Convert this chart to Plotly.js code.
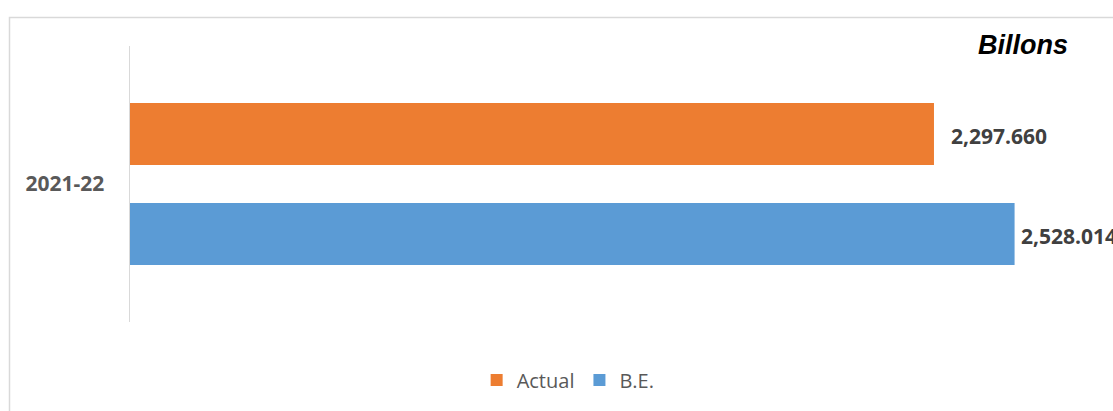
<!DOCTYPE html>
<html>
<head>
<meta charset="utf-8">
<script src="https://cdn.plot.ly/plotly-3.0.1.min.js"></script>
<style>
html,body{margin:0;padding:0;background:#fff;}
#chart{width:1113px;height:411px;}
</style>
</head>
<body>
<div id="chart"></div>
<script>
const categories = ["2021-22"];
const seriesNames = ["Actual", "B.E."];
const actualValues = [2297.660];
const beValues = [2528.014];
const unitLabel = "Billons";

const colors = ["#ED7D31", "#5B9BD5"];
const fmt = v => v.toLocaleString("en-US", {minimumFractionDigits: 3, maximumFractionDigits: 3});

const traces = [
  {type: "bar", orientation: "h", name: seriesNames[0], x: actualValues, y: categories,
   marker: {color: colors[0]}, hoverinfo: "x+name"},
  {type: "bar", orientation: "h", name: seriesNames[1], x: beValues, y: categories,
   marker: {color: colors[1]}, hoverinfo: "x+name"}
];

const labelFont = {family: "Open Sans, sans-serif", size: 21, color: "#404040", weight: 700};
const annotations = [
  {x: actualValues[0], y: categories[0], xref: "x", yref: "y", text: "<b>" + fmt(actualValues[0]) + "</b>",
   showarrow: false, xanchor: "left", yanchor: "middle", xshift: 15, yshift: 48, font: labelFont},
  {x: beValues[0], y: categories[0], xref: "x", yref: "y", text: "<b>" + fmt(beValues[0]) + "</b>",
   showarrow: false, xanchor: "left", yanchor: "middle", xshift: 4, yshift: -52, font: labelFont},
  {x: 0.913, y: 1.005, xref: "paper", yref: "paper", text: "<b><i>" + unitLabel + "</i></b>",
   showarrow: false, xanchor: "center", yanchor: "middle",
   font: {family: "Liberation Sans, Arial, sans-serif", size: 27, color: "#000"}}
];

const layout = {
  width: 1113, height: 411,
  margin: {l: 130, r: 5, t: 46, b: 89, pad: 0},
  paper_bgcolor: "#fff", plot_bgcolor: "#fff",
  barmode: "group", bargap: 0.275, bargroupgap: 0.38,
  showlegend: true,
  legend: {orientation: "h", x: 0.448, xanchor: "center", y: -0.21, yanchor: "middle",
           font: {family: "Open Sans, sans-serif", size: 20, color: "#595959"},
           itemclick: false},
  xaxis: {range: [0, 2795], showgrid: false, zeroline: false, showticklabels: false,
          showline: false, ticks: "", fixedrange: true},
  yaxis: {autorange: "reversed", type: "category", showgrid: false, zeroline: false,
          showline: true, linecolor: "#D9D9D9", linewidth: 1.5,
          ticks: "outside", ticklen: 20, tickcolor: "rgba(0,0,0,0)",
          tickfont: {family: "Open Sans, sans-serif", size: 21, color: "#595959", weight: 700},
          fixedrange: true},
  annotations: annotations,
  shapes: [
    {type: "rect", xref: "paper", yref: "paper",
     x0: (9.5 - 130) / 978, x1: 1.2, y0: -0.5, y1: (322 - 17.5) / 276,
     line: {color: "#D9D9D9", width: 1.5}, fillcolor: "rgba(0,0,0,0)", layer: "below"}
  ]
};

Plotly.newPlot("chart", traces, layout, {displayModeBar: false, staticPlot: true});
</script>
</body>
</html>
